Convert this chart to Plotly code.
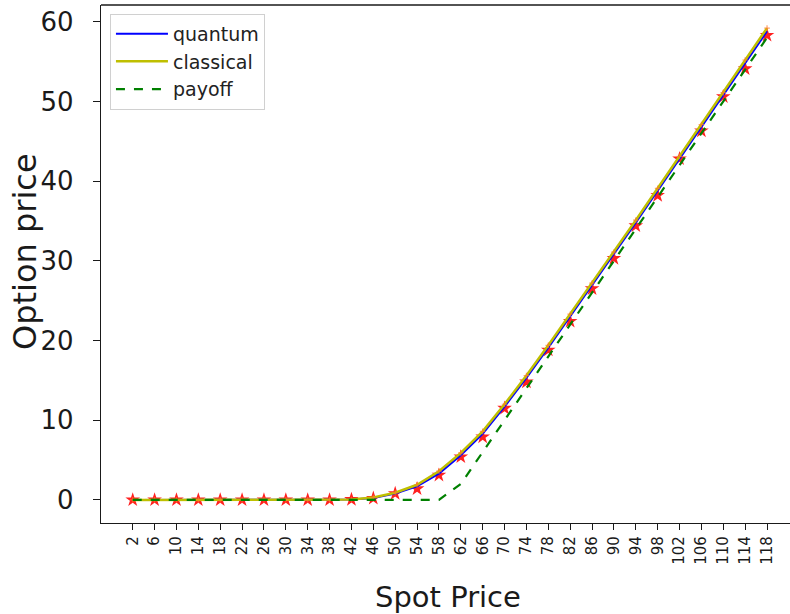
import plotly.graph_objects as go

# Spot prices (strike 60)
spot = [2, 6, 10, 14, 18, 22, 26, 30, 34, 38, 42, 46, 50, 54, 58,
        62, 66, 70, 74, 78, 82, 86, 90, 94, 98, 102, 106, 110, 114, 118]

# Option price curves
quantum = [0, 0, 0, 0, 0, 0, 0, 0, 0, 0, 0.05, 0.25, 0.8, 1.7, 3.3,
           5.6, 8.3, 11.7, 15.3, 19.1, 23.0, 26.9, 30.8, 34.8, 38.8,
           42.8, 46.8, 50.8, 54.8, 58.8]
classical = [0, 0, 0, 0, 0, 0, 0, 0, 0, 0, 0.05, 0.3, 0.9, 1.9, 3.6,
             5.9, 8.6, 12.0, 15.6, 19.4, 23.3, 27.2, 31.1, 35.1, 39.1,
             43.1, 47.1, 51.1, 55.2, 59.2]
payoff = [0, 0, 0, 0, 0, 0, 0, 0, 0, 0, 0, 0, 0, 0, 0,
          2, 6, 10, 14, 18, 22, 26, 30, 34, 38, 42, 46, 50, 54, 58]

# Sampled quantum estimates (red stars)
quantum_pts = [0, 0, 0, 0, 0, 0, 0, 0, 0, 0, 0.05, 0.2, 0.8, 1.4, 3.1,
               5.4, 7.9, 11.5, 14.8, 18.8, 22.4, 26.5, 30.3, 34.4, 38.2,
               42.8, 46.3, 50.6, 54.1, 58.3]

FONT = "DejaVu Sans"
INK = "#1a1a1a"

fig = go.Figure()

fig.add_trace(go.Scatter(x=spot, y=quantum_pts, mode="markers",
                         marker=dict(symbol="star", size=11, color="#ff2020",
                                     line=dict(width=0)),
                         showlegend=False, hoverinfo="skip"))
fig.add_trace(go.Scatter(x=spot, y=quantum, mode="lines", name="quantum",
                         line=dict(color="#0000ff", width=2)))
fig.add_trace(go.Scatter(x=spot, y=classical, mode="lines", name="classical",
                         line=dict(color="#bfbf00", width=2.5)))
fig.add_trace(go.Scatter(x=spot, y=classical, mode="markers",
                         marker=dict(symbol="cross-thin", size=4,
                                     line=dict(color="rgba(255,120,40,0.7)", width=1.2)),
                         showlegend=False, hoverinfo="skip"))
fig.add_trace(go.Scatter(x=spot, y=payoff, mode="lines", name="payoff",
                         line=dict(color="#008000", width=2.2, dash="dash")))

# top border of the axes box
fig.add_shape(type="line", xref="paper", yref="paper", x0=0, x1=1, y0=1, y1=1,
              line=dict(color=INK, width=1.3))

# axis titles
fig.add_annotation(text="Spot Price", xref="paper", yref="paper",
                   x=(448 - 101) / 689, y=-(597 - 523) / 518,
                   xanchor="center", yanchor="middle", showarrow=False,
                   font=dict(size=29, family=FONT, color=INK))
fig.add_annotation(text="Option price", xref="paper", yref="paper",
                   x=-(101 - 25) / 689, y=(523 - 252) / 518, textangle=-90,
                   xanchor="center", yanchor="middle", showarrow=False,
                   font=dict(size=32, family=FONT, color=INK))

fig.update_layout(
    width=790, height=614,
    margin=dict(l=101, r=0, t=5, b=91),
    paper_bgcolor="white", plot_bgcolor="white",
    font=dict(family=FONT, color=INK),
    legend=dict(x=0.013, y=0.983, xanchor="left", yanchor="top",
                bgcolor="rgba(255,255,255,0.9)", bordercolor="#d0d0d0",
                borderwidth=1, font=dict(size=19, family=FONT, color="#222"),
                tracegroupgap=0, itemwidth=52),
    xaxis=dict(range=[-3.8, 122.2], tickmode="array", tickvals=spot,
               ticktext=[str(s) for s in spot], tickangle=-90,
               tickfont=dict(size=15, family=FONT, color=INK),
               ticks="outside", ticklen=6, tickwidth=1.2, tickcolor=INK,
               showgrid=False, zeroline=False,
               showline=True, linecolor=INK, linewidth=1.3),
    yaxis=dict(range=[-2.9, 62.1], tickmode="array",
               tickvals=[0, 10, 20, 30, 40, 50, 60],
               tickfont=dict(size=26, family=FONT, color=INK),
               ticks="outside", ticklen=7, tickwidth=1.2, tickcolor=INK,
               ticklabelstandoff=14,
               showgrid=False, zeroline=False,
               showline=True, linecolor=INK, linewidth=1.3),
)

fig.write_html("out.html")
